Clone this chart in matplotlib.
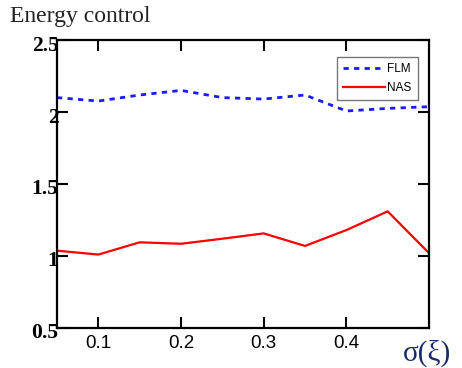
import matplotlib
matplotlib.use("Agg")
import matplotlib.pyplot as plt
import matplotlib.transforms as mtrans

sigma = [0.05, 0.10, 0.15, 0.20, 0.25, 0.30, 0.35, 0.40, 0.45, 0.50]
flm = [2.10, 2.076, 2.118, 2.15, 2.10, 2.09, 2.118, 2.007, 2.025, 2.037]
nas = [1.037, 1.01, 1.095, 1.085, 1.12, 1.157, 1.07, 1.18, 1.31, 1.02]
xticks = [0.1, 0.2, 0.3, 0.4]
yticks = [0.5, 1, 1.5, 2, 2.5]
ytick_labels = ["0.5", "1", "1.5", "2", "2.5"]

fig = plt.figure(figsize=(4.62, 3.68), dpi=100)
ax = fig.add_axes([0.1234, 0.1087, 0.8052, 0.7826])
ax.plot(sigma, flm, color="#1a1aff", linestyle=(0, (1.9, 1.9)), linewidth=2, label="FLM")
ax.plot(sigma, nas, color="#ff0000", linewidth=1.6, label="NAS")
ax.set_xlim(0.05, 0.5)
ax.set_ylim(0.5, 2.5)
ax.set_xticks(xticks)
ax.set_xticklabels([str(t) for t in xticks], fontfamily="Liberation Sans", fontsize=13.5)
ax.set_yticks(yticks)
ax.set_yticklabels(ytick_labels, fontfamily="Liberation Serif", fontweight="bold", fontsize=15.5)
ax.tick_params(axis="both", direction="in", length=8, width=1.5, top=True, right=True)
ax.tick_params(axis="y", pad=-1)
ax.tick_params(axis="x", pad=5)
shift = mtrans.ScaledTranslation(0, -3 / 100, fig.dpi_scale_trans)
for lab in ax.get_yticklabels():
    lab.set_transform(lab.get_transform() + shift)
for s in ax.spines.values():
    s.set_linewidth(1.6)
leg = ax.legend(loc="upper right", bbox_to_anchor=(0.985, 0.96), prop={"family": "Liberation Sans", "size": 8.5},
                frameon=True, fancybox=False, edgecolor="#555555", handlelength=3.6, handletextpad=0.2,
                borderpad=0.5, labelspacing=0.6)
leg.get_frame().set_linewidth(1.0)
fig.text(0.022, 0.955, "Energy control", fontfamily="Liberation Serif", fontsize=17, ha="left", va="center", color="#222222")
fig.text(0.872, 0.04, "σ(ξ)", fontfamily="Liberation Serif", fontsize=21, ha="left", va="center", color="#1a2a6a")
fig.savefig("out.png", dpi=100)
